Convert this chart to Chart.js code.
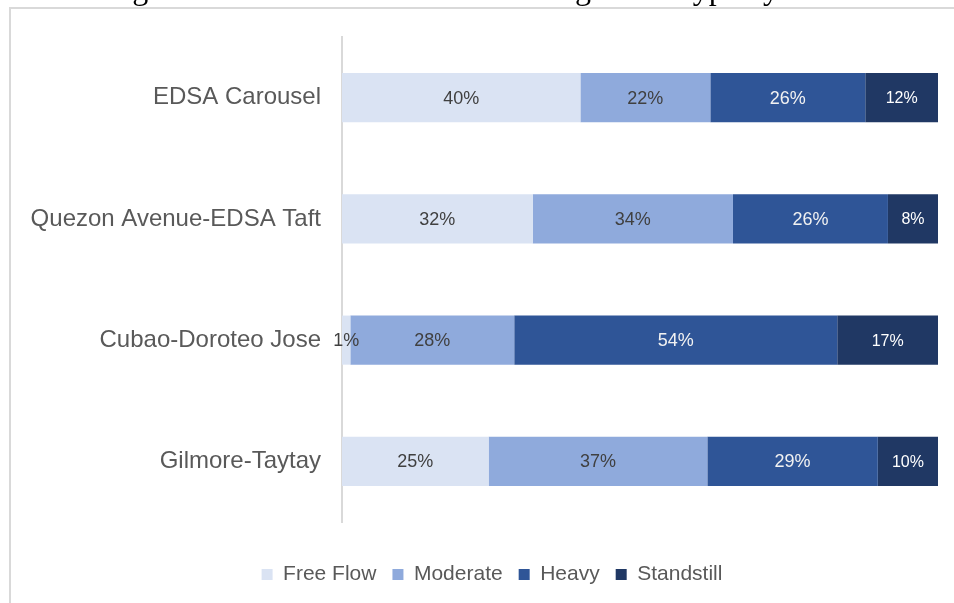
<!DOCTYPE html>
<html>
<head>
<meta charset="utf-8">
<script src="https://cdn.jsdelivr.net/npm/chart.js@4/dist/chart.umd.min.js"></script>
<style>
  html, body { margin: 0; padding: 0; background: #fff; }
  #wrap { width: 954px; height: 603px; }
</style>
</head>
<body>
<div id="wrap"><canvas id="chart" width="954" height="603"></canvas></div>
<script>
// route names and congestion shares (%)
var routes = ['EDSA Carousel', 'Quezon Avenue-EDSA Taft', 'Cubao-Doroteo Jose', 'Gilmore-Taytay'];
var freeFlow = [40.0, 32.0, 1.4, 24.6];
var moderate = [21.8, 33.6, 27.5, 36.7];
var heavy = [26.0, 26.0, 54.2, 28.6];
var standstill = [12.2, 8.4, 16.9, 10.1];
var seriesNames = ['Free Flow', 'Moderate', 'Heavy', 'Standstill'];
var seriesColors = ['#dae3f3', '#8faadc', '#2f5597', '#203864'];
var labelColors = ['#404040', '#404040', '#f2f2f2', '#ffffff'];
var labelSizes = [18, 18, 18, 16];
var titleText = 'Figure 4. Distribution of Traffic Congestion Type by Route';

// page frame + the clipped caption above it
var framePlugin = {
    id: 'frame',
    beforeDraw: function (chart) {
        var ctx = chart.ctx;
        ctx.save();
        ctx.fillStyle = '#fff';
        ctx.fillRect(0, 0, chart.width, chart.height);
        ctx.strokeStyle = '#d9d9d9';
        ctx.lineWidth = 2;
        ctx.strokeRect(10, 8, 2000, 2000);
        ctx.font = '32px "Liberation Serif", "Times New Roman", serif';
        ctx.fillStyle = '#000';
        ctx.textBaseline = 'alphabetic';
        var pre = ctx.measureText('Figure 4. Distribution of Traffic Con').width;
        ctx.fillText(titleText, 575 - pre, -1);
        ctx.restore();
    }
};

// legend sits a bit right of the canvas centre in the original
var legendShift = {
    id: 'legendShift',
    afterLayout: function (chart) {
        chart.legend.left += 23;
        chart.legend.right += 23;
    }
};

// percent labels in the middle of every segment
var labelPlugin = {
    id: 'segLabels',
    afterDatasetsDraw: function (chart) {
        var ctx = chart.ctx;
        ctx.save();
        ctx.textAlign = 'center';
        ctx.textBaseline = 'middle';
        chart.data.datasets.forEach(function (ds, i) {
            var meta = chart.getDatasetMeta(i);
            ctx.font = labelSizes[i] + 'px "Liberation Sans", Arial, sans-serif';
            ctx.fillStyle = labelColors[i];
            meta.data.forEach(function (bar, j) {
                var v = ds.data[j];
                ctx.fillText(Math.round(v) + '%', (bar.x + bar.base) / 2, bar.y + 1);
            });
        });
        ctx.restore();
    }
};

var allSeries = [freeFlow, moderate, heavy, standstill];

new Chart(document.getElementById('chart'), {
    type: 'bar',
    data: {
        labels: routes,
        datasets: allSeries.map(function (d, i) {
            return {
                label: seriesNames[i],
                data: d,
                backgroundColor: seriesColors[i],
                borderWidth: 0,
                barPercentage: 0.405,
                categoryPercentage: 1
            };
        })
    },
    options: {
        indexAxis: 'y',
        responsive: false,
        animation: false,
        layout: { padding: { top: 37, right: 16, bottom: 8, left: 0 } },
        scales: {
            x: {
                stacked: true,
                min: 0,
                max: 100,
                grid: { display: false, drawTicks: false },
                border: { display: false },
                ticks: { display: false },
                afterFit: function (axis) { axis.height = 26; }
            },
            y: {
                stacked: true,
                grid: { display: false, drawTicks: false },
                border: { display: true, color: '#d9d9d9', width: 2 },
                ticks: {
                    padding: 21,
                    color: '#595959',
                    font: { family: '"Liberation Sans", Arial, sans-serif', size: 24 }
                },
                afterFit: function (axis) { axis.width = 342; }
            }
        },
        plugins: {
            legend: {
                position: 'bottom',
                labels: {
                    boxWidth: 11,
                    boxHeight: 11,
                    padding: 16,
                    color: '#595959',
                    font: { family: '"Liberation Sans", Arial, sans-serif', size: 21 }
                }
            },
            tooltip: { enabled: false }
        }
    },
    plugins: [framePlugin, legendShift, labelPlugin]
});
</script>
</body>
</html>
